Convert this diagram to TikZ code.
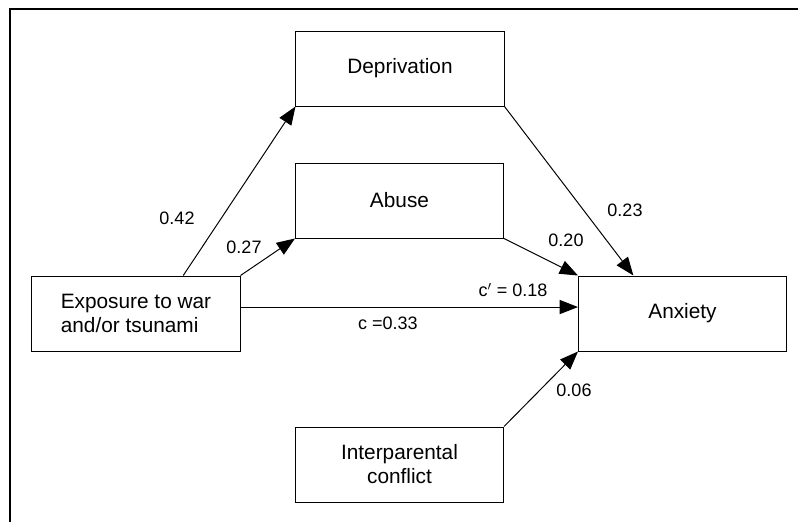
\documentclass[tikz,border=0pt]{standalone}
\usepackage{fontspec}
\setmainfont{Liberation Sans}
\usetikzlibrary{positioning,arrows.meta,calc}

\begin{document}
\begin{tikzpicture}[
  x=0.025cm,y=-0.025cm,
  varbox/.style={rectangle,draw,line width=0.7pt,minimum width=5.2cm,minimum height=1.875cm,inner sep=2pt,font=\fontsize{14.8}{17}\selectfont},
  eff/.style={-{Triangle[length=13pt,width=10pt]},line width=0.7pt},
  coef/.style={font=\fontsize{12.8}{15}\selectfont,inner sep=1pt},
]
\useasboundingbox (0,0) rectangle (798,522);

% === FRAME ===
\draw[line width=1.4pt] (10,522) -- (10,9) -- (798,9);

% === VARIABLES ===
\node[varbox] (depr) at (400,68.5)    {Deprivation};
\node[varbox] (abuse) at (399.5,200.5) {Abuse};
\node[varbox,align=left] (expo) at (136,313.5) {Exposure to war\\and/or tsunami};
\node[varbox] (anx) at (682.5,313.5)   {Anxiety};
\node[varbox,align=center] (inter) at (399.5,464.5) {Interparental\\conflict};

% === PATHS ===
\draw[eff] ($(expo.north west)!0.726!(expo.north east)$) -- (depr.south west);
\draw[eff] (expo.north east) -- (abuse.south west);
\draw[eff] (depr.south east) -- ($(anx.north west)!0.265!(anx.north east)$);
\draw[eff] (abuse.south east) -- (anx.north west);
\draw[eff] ([yshift=4.6pt]expo.east) -- ([yshift=4.6pt]anx.west);
\draw[eff] (inter.north east) -- (anx.south west);

% === COEFFICIENTS ===
\node[coef] (k42) at (177,218) {0.42};
\node[coef] (k27) at (244,247) {0.27};
\node[coef] (k23) at (625,210) {0.23};
\node[coef] (k20) at (566,240) {0.20};
\node[coef] (kcp) at (513,290) {c$'$ = 0.18};
\node[coef] (kc) at (388,323)  {c =0.33};
\node[coef] (k06) at (574,390) {0.06};

\end{tikzpicture}
\end{document}
